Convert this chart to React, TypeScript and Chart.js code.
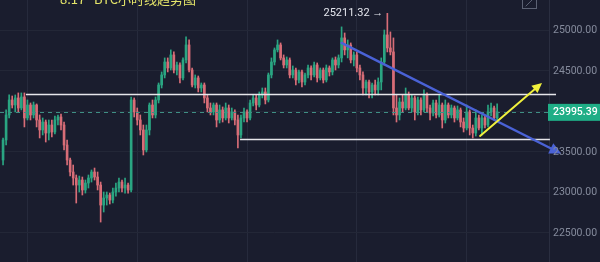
import React, { useEffect, useRef } from "react";
import { Chart, registerables } from "chart.js";
Chart.register(...registerables);

// Hourly BTC candles (USD)
const opens = [
  23401, 23648, 23957, 24142, 24080, 24167, 24043, 24179, 23920, 24080,
  23957, 24080, 23895, 23772, 23870, 23734, 23833, 23747, 23895, 23932,
  23833, 23586, 23401, 23253, 23179, 23092, 23154, 23031, 23117, 23179,
  23253, 23191, 23092, 22845, 22932, 22969, 22907, 23006, 23055, 23129,
  23055, 23092, 23031, 24142, 23994, 23895, 23772, 23525, 23772, 24080,
  23957, 24142, 24327, 24451, 24611, 24537, 24698, 24512, 24574, 24414,
  24636, 24821, 24512, 24327, 24414, 24290, 24327, 24167, 24043, 23994,
  24080, 23895, 24019, 23920, 24043, 23920, 23994, 23895, 23710, 23920,
  23994, 23920, 24105, 24167, 24080, 24204, 24241, 24142, 24451, 24611,
  24760, 24821, 24661, 24574, 24636, 24451, 24512, 24389, 24488, 24364,
  24451, 24537, 24451, 24574, 24414, 24512, 24389, 24537, 24488, 24636,
  24574, 24661, 24908, 24760, 24821, 24636, 24698, 24537, 24451, 24290,
  24364, 24241, 24327, 24266, 24364, 24611, 24945, 24784, 24735, 24043,
  23957, 24117, 24043, 24204, 24043, 24167, 23994, 24142, 24019, 24204,
  24043, 23981, 24105, 23957, 24080, 23895, 24080, 23957, 24043, 23920,
  24019, 23870, 23796, 23994, 23796, 23734, 23920, 23796, 23920, 23833,
  23994, 24043, 23920,
];
const highs = [
  23673, 24019, 24204, 24191, 24204, 24229, 24229, 24229, 24142, 24105,
  24117, 24093, 23957, 23920, 23895, 23895, 23895, 23944, 23957, 23969,
  23870, 23648, 23426, 23339, 23216, 23203, 23191, 23154, 23216, 23278,
  23302, 23253, 23129, 23006, 23006, 22993, 23055, 23117, 23179, 23154,
  23179, 23117, 24179, 24167, 24043, 23957, 23833, 23833, 24105, 24142,
  24179, 24352, 24488, 24661, 24661, 24760, 24735, 24611, 24599, 24661,
  24920, 24883, 24537, 24451, 24438, 24352, 24352, 24204, 24105, 24105,
  24105, 24080, 24056, 24105, 24080, 24043, 24019, 23957, 23957, 24043,
  24019, 24142, 24204, 24204, 24241, 24290, 24290, 24475, 24661, 24784,
  24883, 24846, 24698, 24673, 24661, 24562, 24537, 24512, 24512, 24475,
  24574, 24562, 24611, 24599, 24537, 24537, 24574, 24562, 24661, 24673,
  24698, 25044, 24969, 24883, 24846, 24735, 24735, 24574, 24488, 24389,
  24389, 24352, 24389, 24414, 24661, 25006, 25211.32, 24982, 24908, 24204,
  24167, 24204, 24290, 24241, 24204, 24191, 24179, 24167, 24266, 24229,
  24080, 24142, 24142, 24204, 24105, 24142, 24105, 24080, 24068, 24068,
  24043, 23920, 24080, 24019, 23833, 24019, 23957, 23957, 23944, 24080,
  24105, 24068, 24093,
];
const lows = [
  23339, 23586, 23920, 24043, 23994, 23994, 24019, 23809, 23895, 23895,
  23920, 23809, 23673, 23710, 23623, 23648, 23685, 23722, 23833, 23772,
  23525, 23339, 23203, 23092, 22870, 23006, 22969, 22993, 23055, 23129,
  23154, 23031, 22635, 22759, 22845, 22858, 22870, 22956, 23006, 23006,
  22993, 22993, 23006, 23932, 23833, 23710, 23463, 23500, 23710, 23920,
  23920, 24105, 24290, 24414, 24488, 24512, 24475, 24451, 24352, 24389,
  24599, 24488, 24303, 24290, 24241, 24241, 24105, 23994, 23957, 23957,
  23809, 23858, 23870, 23895, 23858, 23895, 23833, 23549, 23673, 23870,
  23870, 23895, 24068, 24019, 24056, 24167, 24093, 24117, 24414, 24574,
  24735, 24636, 24537, 24537, 24414, 24414, 24327, 24352, 24303, 24327,
  24414, 24389, 24426, 24364, 24389, 24352, 24364, 24438, 24451, 24512,
  24537, 24611, 24698, 24661, 24599, 24562, 24488, 24389, 24204, 24204,
  24167, 24167, 24204, 24204, 24266, 24574, 24735, 24698, 23957, 23870,
  23895, 23994, 24019, 24019, 23994, 23895, 23957, 23957, 23994, 23994,
  23895, 23944, 23920, 23932, 23796, 23858, 23920, 23920, 23870, 23895,
  23809, 23747, 23772, 23710, 23673, 23697, 23772, 23710, 23796, 23809,
  23944, 23895, 23895,
];
const closes = [
  23648, 23957, 24142, 24080, 24167, 24043, 24179, 23920, 24080, 23957,
  24080, 23895, 23772, 23870, 23734, 23833, 23747, 23895, 23932, 23833,
  23586, 23401, 23253, 23179, 23092, 23154, 23031, 23117, 23179, 23253,
  23191, 23092, 22845, 22932, 22969, 22907, 23006, 23055, 23129, 23055,
  23092, 23031, 24142, 23994, 23895, 23772, 23525, 23772, 24080, 23957,
  24142, 24327, 24451, 24611, 24537, 24698, 24512, 24574, 24414, 24636,
  24821, 24512, 24327, 24414, 24290, 24327, 24167, 24043, 23994, 24080,
  23895, 24019, 23920, 24043, 23920, 23994, 23895, 23710, 23920, 23994,
  23920, 24105, 24167, 24080, 24204, 24241, 24142, 24451, 24611, 24760,
  24821, 24661, 24574, 24636, 24451, 24512, 24389, 24488, 24364, 24451,
  24537, 24451, 24574, 24414, 24512, 24389, 24537, 24488, 24636, 24574,
  24661, 24908, 24760, 24821, 24636, 24698, 24537, 24451, 24290, 24364,
  24241, 24327, 24266, 24364, 24611, 24945, 24784, 24735, 24043, 23957,
  24117, 24043, 24204, 24043, 24167, 23994, 24142, 24019, 24204, 24043,
  23981, 24105, 23957, 24080, 23895, 24080, 23957, 24043, 23920, 24019,
  23870, 23796, 23994, 23796, 23734, 23920, 23796, 23920, 23833, 23994,
  24043, 23920, 23995.39,
];

const priceTicks = [22500, 23000, 23500, 24000, 24500, 25000];
const timeGridIdx = [26, 62, 98, 134, 170];
const lastPrice = 23995.39;
const peakPrice = 25211.32;
const peakIdx = 126;
const titleDate = "8.17";
const titleText = "BTC小时线趋势图";
// support/resistance levels and drawn trend lines, in (candle index, price)
const resistance = { price: 24210, from: 7.5, to: 181.3 };
const support = { price: 23654, from: 77.7, to: 179.3 };
const downTrend = { x1: 111, y1: 24846, x2: 183, y2: 23480 };
const upArrow = { x1: 156.4, y1: 23698, x2: 176.7, y2: 24352 };

const BG = "#1a1d2e";
const GREEN = "#2aa582";
const RED = "#d86d77";

function arrowHead(ctx: CanvasRenderingContext2D, x1: number, y1: number, x2: number, y2: number, size: number, color: string) {
  const a = Math.atan2(y2 - y1, x2 - x1);
  ctx.fillStyle = color;
  ctx.beginPath();
  ctx.moveTo(x2, y2);
  ctx.lineTo(x2 - size * Math.cos(a - 0.45), y2 - size * Math.sin(a - 0.45));
  ctx.lineTo(x2 - size * Math.cos(a + 0.45), y2 - size * Math.sin(a + 0.45));
  ctx.closePath();
  ctx.fill();
}

const overlayPlugin = {
  id: "overlay",
  beforeDraw(chart: any) {
    const ctx = chart.ctx;
    ctx.save();
    ctx.fillStyle = BG;
    ctx.fillRect(0, 0, chart.width, chart.height);
    ctx.restore();
  },
  afterDatasetsDraw(chart: any) {
    const ctx: CanvasRenderingContext2D = chart.ctx;
    const xs = chart.scales.x;
    const ys = chart.scales.y;
    const px = (v: number) => xs.getPixelForValue(v);
    const py = (v: number) => ys.getPixelForValue(v);
    const area = chart.chartArea;
    ctx.save();

    // current price dashed line
    ctx.strokeStyle = "#3f8f84";
    ctx.lineWidth = 1;
    ctx.setLineDash([4, 4]);
    ctx.beginPath();
    ctx.moveTo(area.left, Math.round(py(lastPrice)) + 0.5);
    ctx.lineTo(area.right, Math.round(py(lastPrice)) + 0.5);
    ctx.stroke();
    ctx.setLineDash([]);

    // horizontal levels
    ctx.strokeStyle = "#e6e6ea";
    ctx.lineWidth = 1.5;
    for (const l of [resistance, support]) {
      ctx.beginPath();
      ctx.moveTo(px(l.from), py(l.price));
      ctx.lineTo(px(l.to), py(l.price));
      ctx.stroke();
    }

    // down trend line (blue)
    {
      const x1 = px(downTrend.x1), y1 = py(downTrend.y1);
      const x2 = px(downTrend.x2), y2 = py(downTrend.y2);
      const blue = "#4a62d6";
      ctx.strokeStyle = blue;
      ctx.lineWidth = 2.5;
      ctx.lineCap = "round";
      ctx.beginPath();
      ctx.moveTo(x1, y1);
      const a = Math.atan2(y2 - y1, x2 - x1);
      ctx.lineTo(x2 - 8 * Math.cos(a), y2 - 8 * Math.sin(a));
      ctx.stroke();
      arrowHead(ctx, x1, y1, x2, y2, 13, blue);
    }
    // up arrow (yellow)
    {
      const x1 = px(upArrow.x1), y1 = py(upArrow.y1);
      const x2 = px(upArrow.x2), y2 = py(upArrow.y2);
      const yel = "#f0f03c";
      ctx.strokeStyle = yel;
      ctx.lineWidth = 2;
      ctx.beginPath();
      ctx.moveTo(x1, y1);
      const a = Math.atan2(y2 - y1, x2 - x1);
      ctx.lineTo(x2 - 7 * Math.cos(a), y2 - 7 * Math.sin(a));
      ctx.stroke();
      arrowHead(ctx, x1, y1, x2, y2, 11, yel);
    }

    // peak annotation
    ctx.font = "11px Roboto, 'Noto Sans', sans-serif";
    ctx.fillStyle = "#e4e6ee";
    ctx.textAlign = "right";
    ctx.textBaseline = "middle";
    ctx.fillText(peakPrice.toFixed(2) + " →", px(peakIdx) - 4, py(peakPrice));

    // y axis labels
    ctx.fillStyle = "#858b9c";
    ctx.textAlign = "left";
    ctx.font = "10.5px Roboto, 'Noto Sans', sans-serif";
    for (const t of priceTicks) {
      ctx.fillText(t.toFixed(2), area.right + 4, py(t));
    }

    // last price label
    const ly = py(lastPrice);
    ctx.fillStyle = "#1fae86";
    ctx.fillRect(area.right - 1, ly - 8, chart.width - area.right + 1, 17);
    ctx.fillStyle = "#ffffff";
    ctx.font = "500 10.5px Roboto, 'Noto Sans', sans-serif";
    ctx.fillText(lastPrice.toFixed(2), area.right + 4, ly + 0.5);

    // title (clipped at top)
    ctx.fillStyle = "#e6e66a";
    ctx.font = "13px 'Noto Sans CJK SC', 'Noto Sans', sans-serif";
    ctx.textBaseline = "alphabetic";
    ctx.textAlign = "left";
    ctx.fillText(titleDate, 60, 4);
    ctx.fillText(titleText, 94, 4);

    // expand icon at top right
    ctx.strokeStyle = "#5c6274";
    ctx.lineWidth = 1;
    ctx.strokeRect(522.5, -4.5, 14, 13);
    ctx.beginPath();
    ctx.moveTo(526, 6);
    ctx.lineTo(533, -1);
    ctx.stroke();

    ctx.restore();
  },
};

export default function App() {
  const ref = useRef<HTMLCanvasElement | null>(null);
  useEffect(() => {
    document.body.style.margin = "0";
    document.body.style.background = BG;
    const canvas = ref.current!;
    const idx = opens.map((_, i) => i);
    const colors = idx.map((i) => (closes[i] >= opens[i] ? GREEN : RED));
    const chart = new Chart(canvas, {
      type: "bar",
      data: {
        datasets: [
          {
            data: idx.map((i) => ({ x: i, y: [lows[i], highs[i]] })) as any,
            backgroundColor: colors,
            barThickness: 1,
            grouped: false,
            borderWidth: 0,
            order: 2,
          },
          {
            data: idx.map((i) => ({ x: i, y: [opens[i], closes[i]] })) as any,
            backgroundColor: colors,
            barThickness: 2,
            grouped: false,
            borderWidth: 0,
            minBarLength: 1,
            order: 1,
          },
        ],
      },
      options: {
        responsive: false,
        animation: false,
        devicePixelRatio: 1,
        layout: { padding: 0 },
        plugins: { legend: { display: false }, tooltip: { enabled: false } },
        scales: {
          x: {
            type: "linear",
            min: -1,
            max: 179,
            offset: false,
            ticks: { display: false },
            grid: { color: "#262a3c", drawTicks: false },
            border: { display: false },
            afterBuildTicks: (s: any) => {
              s.ticks = timeGridIdx.map((v) => ({ value: v }));
            },
            afterFit: (s: any) => {
              s.height = 0;
            },
          },
          y: {
            position: "right",
            min: 22142,
            max: 25376,
            ticks: { display: false },
            grid: { color: "#232737", drawTicks: false },
            border: { display: true, color: "#2a2e40" },
            afterBuildTicks: (s: any) => {
              s.ticks = priceTicks.map((v) => ({ value: v }));
            },
            afterFit: (s: any) => {
              s.width = 51;
            },
          },
        },
      },
      plugins: [overlayPlugin],
    });
    return () => chart.destroy();
  }, []);
  return <canvas ref={ref} width={600} height={262} style={{ display: "block" }} />;
}
